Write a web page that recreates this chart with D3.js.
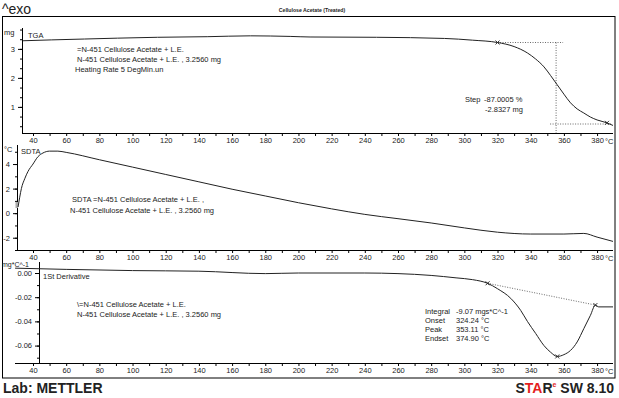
<!DOCTYPE html>
<html>
<head>
<meta charset="utf-8">
<script src="https://cdn.jsdelivr.net/npm/d3@7"></script>
<style>
	body { margin: 0; background: #fff; }
	svg text { font-family: "Liberation Sans", Arial, sans-serif; fill: #222; }
</style>
</head>
<body>
<div id="chart"></div>
<script>
// temperature axis labels (deg C)
const xTickLabels = [40, 60, 80, 100, 120, 140, 160, 180, 200, 220, 240, 260, 280, 300, 320, 340, 360, 380];

// TGA curve, mg
const tgaTemp = [34, 51, 71, 91, 115, 145, 171, 195, 207, 247, 288, 305, 320, 330, 338, 343, 348, 352, 356, 360, 364, 368, 372, 376, 380, 386, 389.6];
const tgaMass = [3.28, 3.31, 3.34, 3.37, 3.40, 3.42, 3.45, 3.43, 3.41, 3.40, 3.36, 3.30, 3.22, 3.08, 2.86, 2.65, 2.38, 2.08, 1.76, 1.44, 1.14, 0.93, 0.79, 0.65, 0.55, 0.45, 0.36];
const tgaTicks = [1, 2, 3];

// SDTA curve, deg C
const sdtaTemp = [31, 32, 33, 35, 37, 40, 43, 46, 50, 55, 60, 80, 100, 120, 140, 160, 180, 200, 220, 240, 260, 280, 300, 320, 340, 360, 372, 380, 389.6];
const sdtaVal = [0.5, 1.3, 2.0, 2.8, 3.4, 4.0, 4.6, 4.9, 5.05, 5.05, 4.95, 4.35, 3.75, 3.15, 2.55, 1.95, 1.4, 0.85, 0.35, -0.1, -0.45, -0.8, -1.2, -1.55, -1.7, -1.7, -1.65, -1.95, -2.3];
const sdtaTicks = [-2, 0, 2, 4];

// 1st derivative, mg/deg C
const dtgTemp = [29.2, 60, 100, 140, 180, 200, 240, 260, 280, 295, 305, 314, 320, 328, 334, 338, 343, 348, 352, 356, 360, 364, 368, 372, 376, 379, 381, 389.6];
const dtgVal = [0.004, 0.003, 0.002, 0.0015, -0.0005, 0.0, 0.0, -0.0005, -0.002, -0.004, -0.0055, -0.0085, -0.013, -0.021, -0.031, -0.040, -0.050, -0.060, -0.0655, -0.069, -0.0675, -0.064, -0.057, -0.046, -0.035, -0.0265, -0.028, -0.028];
const dtgTicks = [0, -0.02, -0.04, -0.06];

// evaluation marks
const tgaStep = { t1: 320, m1: 3.22, tMid: 355.3, t2: 386, m2: 0.45, mLow: 0.41 };
const dtgBase = { t1: 314, v1: -0.0085, t2: 379, v2: -0.0265, tPeak: 356, vPeak: -0.069 };

const width = 619, height = 398;
const fs = 7.5;

const svg = d3.select("#chart")
	.append("svg")
	.attr("width", width)
	.attr("height", height);

const xScale = d3.scaleLinear()
	.domain([29.15, 389.6])
	.range([15, 613]);

const line = (xs, ys, yScale) => d3.line()
	.x(d => xScale(d))
	.y((d, i) => yScale(ys[i]))
	.curve(d3.curveMonotoneX)(xs);

// x axis under each panel
const addXAxis = (axisX, y) => {
	const minor = d3.range(40, 390, 10);
	const g = svg.append("g")
		.attr("transform", `translate(0, ${y})`)
		.call(d3.axisBottom(xScale)
			.tickValues(minor)
			.tickSize(3)
			.tickFormat(d => xTickLabels.includes(d) ? d : ""));
	g.select(".domain").remove();
	g.selectAll(".tick line").attr("stroke", "#000");
	g.selectAll(".tick text")
		.attr("font-size", fs)
		.attr("y", 5)
		.attr("fill", "#222");
	g.append("line")
		.attr("x1", axisX).attr("x2", 613)
		.attr("y1", 0.5).attr("y2", 0.5)
		.attr("stroke", "#000");
	svg.append("text")
		.attr("x", xScale(380) + 8)
		.attr("y", y + 10.5)
		.attr("font-size", fs)
		.text("°C");
}

// y axis with minor ticks
const addYAxis = (yScale, x, ticks, minorStep, fmt, top, bottom) => {
	const [lo, hi] = yScale.domain();
	const minor = d3.range(Math.ceil(lo / minorStep) * minorStep, hi, minorStep);
	const g = svg.append("g").attr("transform", `translate(${x}, 0)`);
	g.append("g")
		.call(d3.axisLeft(yScale).tickValues(minor).tickSize(2).tickFormat(""))
		.select(".domain").remove();
	const major = g.append("g")
		.call(d3.axisLeft(yScale).tickValues(ticks).tickSize(4).tickFormat(fmt));
	major.select(".domain").remove();
	major.selectAll(".tick text").attr("font-size", fs).attr("fill", "#222");
	g.selectAll(".tick line").attr("stroke", "#000");
	g.append("line")
		.attr("x1", 0.5).attr("x2", 0.5)
		.attr("y1", top).attr("y2", bottom)
		.attr("stroke", "#000");
}

const addText = (x, y, txt, size = fs, anchor = "start") => svg.append("text")
	.attr("x", x).attr("y", y)
	.attr("font-size", size)
	.attr("text-anchor", anchor)
	.text(txt);

const addCross = (cx, cy) => svg.append("path")
	.attr("d", `M${cx - 2},${cy - 2}L${cx + 2},${cy + 2}M${cx - 2},${cy + 2}L${cx + 2},${cy - 2}`)
	.attr("stroke", "#222")
	.attr("stroke-width", 0.9);

// outer frame
svg.append("rect")
	.attr("x", 2.5).attr("y", 16.5)
	.attr("width", 612.5).attr("height", 361.5)
	.attr("fill", "none")
	.attr("stroke", "#000");

addText(2, 14, "^exo", 14);
svg.append("text")
	.attr("x", 312).attr("y", 12)
	.attr("font-size", 5.2)
	.attr("font-weight", "bold")
	.attr("text-anchor", "middle")
	.text("Cellulose Acetate (Treated)");

// ---- TGA panel
const yTga = d3.scaleLinear().domain([0.1, 3.72]).range([133, 28]);
addYAxis(yTga, 22, tgaTicks, 1 / 3, d => d, 28, 133);
addXAxis(22, 133);
addText(4, 35, "mg");
addText(28, 38, "TGA");

// step evaluation guides
const dotted = (x1, y1, x2, y2) => svg.append("line")
	.attr("x1", x1).attr("y1", y1).attr("x2", x2).attr("y2", y2)
	.attr("stroke", "#444")
	.attr("stroke-width", 0.8)
	.attr("stroke-dasharray", "1,1.5");
dotted(xScale(tgaStep.t1), yTga(tgaStep.m1), xScale(tgaStep.tMid) + 7, yTga(tgaStep.m1));
dotted(xScale(tgaStep.tMid), yTga(tgaStep.m1), xScale(tgaStep.tMid), 133);
dotted(xScale(tgaStep.tMid) - 6, yTga(tgaStep.mLow), 611, yTga(tgaStep.mLow));

svg.append("path")
	.attr("d", line(tgaTemp, tgaMass, yTga))
	.attr("fill", "none")
	.attr("stroke", "#222")
	.attr("stroke-width", 1);
addCross(xScale(tgaStep.t1), yTga(tgaStep.m1));
addCross(xScale(tgaStep.t2), yTga(tgaStep.m2));

addText(77, 52, "=N-451 Cellulose Acetate + L.E.");
addText(77, 62, "N-451 Cellulose Acetate + L.E. , 3.2560 mg");
addText(75, 72, "Heating Rate 5 DegMin.un");
addText(465, 102, "Step");
addText(484, 102, "-87.0005 %");
addText(485, 112, "-2.8327 mg");

// ---- SDTA panel
const ySdta = d3.scaleLinear().domain([-3.0, 5.55]).range([250, 145]);
addYAxis(ySdta, 17, sdtaTicks, 1, d => String(d), 145, 250);
addXAxis(17, 250);
addText(4, 152, "°C");
addText(21, 154, "SDTA");

svg.append("rect")
	.attr("x", 15.5).attr("y", ySdta(sdtaVal[0]) - 5)
	.attr("width", 2.5).attr("height", 6)
	.attr("fill", "#aaa");
svg.append("path")
	.attr("d", line(sdtaTemp, sdtaVal, ySdta))
	.attr("fill", "none")
	.attr("stroke", "#222")
	.attr("stroke-width", 1);

addText(72, 202, "SDTA =N-451 Cellulose Acetate + L.E. ,");
addText(70, 213, "N-451 Cellulose Acetate + L.E. , 3.2560 mg");

// ---- 1st derivative panel
const yDtg = d3.scaleLinear().domain([-0.0744, 0.0091]).range([363, 262]);
addYAxis(yDtg, 39, dtgTicks, 0.01, d => d.toFixed(2), 262, 363);
addXAxis(15, 363);
addText(2, 267, "mg*C^-1", 7);
addText(43, 279, "1St Derivative");

dotted(xScale(dtgBase.t1), yDtg(dtgBase.v1), xScale(dtgBase.t2), yDtg(dtgBase.v2));
svg.append("path")
	.attr("d", line(dtgTemp, dtgVal, yDtg))
	.attr("fill", "none")
	.attr("stroke", "#222")
	.attr("stroke-width", 1);
addCross(xScale(dtgBase.t1), yDtg(dtgBase.v1));
addCross(xScale(dtgBase.t2), yDtg(dtgBase.v2));
addCross(xScale(dtgBase.tPeak), yDtg(dtgBase.vPeak));

addText(77, 307, "\\=N-451 Cellulose Acetate + L.E.");
addText(77, 317, "N-451 Cellulose Acetate + L.E. , 3.2560 mg");
const evalLabels = ["Integral", "Onset", "Peak", "Endset"];
const evalValues = ["-9.07 mgs*C^-1", "324.24 °C", "353.11 °C", "374.90 °C"];
evalLabels.forEach((d, i) => {
	addText(425, 314 + i * 9, d);
	addText(456, 314 + i * 9, evalValues[i]);
});

// footer
svg.append("text")
	.attr("x", 3).attr("y", 393)
	.attr("font-size", 14)
	.attr("font-weight", "bold")
	.text("Lab: METTLER");

const star = svg.append("text")
	.attr("x", 614).attr("y", 393)
	.attr("font-size", 14)
	.attr("font-weight", "bold")
	.attr("text-anchor", "end");
star.append("tspan").text("S");
star.append("tspan").attr("fill", "#e41e1e").text("TA");
star.append("tspan").text("R");
star.append("tspan").attr("fill", "#e41e1e").attr("font-size", 7).attr("dy", -6).text("e");
star.append("tspan").attr("dy", 6).text(" SW 8.10");
</script>
</body>
</html>
